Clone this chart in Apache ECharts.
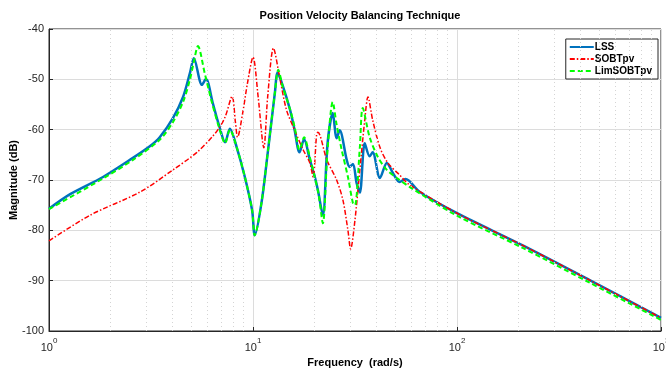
<!DOCTYPE html>
<html>
<head>
<meta charset="utf-8">
<script src="https://cdn.jsdelivr.net/npm/echarts@6/dist/echarts.min.js"></script>
<style>
  html, body { margin: 0; padding: 0; background: #fff; }
  #chart { width: 666px; height: 371px; }
</style>
</head>
<body>
<div id="chart"></div>
<script>
// values: frequency (rad/s) and magnitude (dB)
const lssFreq = [1, 1.27, 1.84, 2.58, 3.12, 3.49, 4.05, 4.54, 4.91, 5.13, 5.62, 5.88, 6.35, 6.81, 7.3, 7.7, 8.32, 9.12, 9.9, 10.2, 11.0, 11.8, 12.8, 13.2, 14.0, 15.2, 16.0, 16.9, 17.8, 19.0, 20.1, 20.8, 22.0, 23.2, 24.6, 25.7, 26.6, 28.8, 29.7, 30.9, 32.2, 33.4, 35.3, 37.3, 38.6, 41.9, 45.3, 48.5, 52.3, 55.9, 65.8, 100, 210, 447, 1000];
const lssDb = [-75.7, -72.8, -69.4, -65.6, -63.3, -61.5, -57.7, -53.5, -48.7, -45.8, -51.1, -49.9, -54.7, -59.1, -62.5, -59.8, -63.5, -69.4, -76, -81, -74.6, -64.7, -52.7, -48.7, -51.3, -56.1, -60.1, -64.5, -61.9, -66.0, -69.4, -72, -77, -62.7, -56.7, -61.7, -60.1, -66, -67.4, -66.8, -70.6, -72.5, -62.7, -65.3, -64.5, -69.6, -66.6, -68.6, -70.4, -69.8, -72.4, -76.6, -83, -89.9, -97.4];

const sobtFreq = [1, 1.59, 2.79, 4.05, 5.31, 6.35, 6.81, 7.3, 7.9, 8.2, 8.4, 8.9, 9.4, 10.0, 10.6, 11.3, 11.8, 12.6, 13.5, 14.6, 16.0, 17.6, 19.0, 19.7, 20.5, 20.8, 23.0, 25.7, 27.6, 29.2, 30.1, 31.6, 33.4, 35.3, 36.6, 38.6, 41.9, 45.8, 52.3, 58.7, 100, 210, 447, 1000];
const sobtDb = [-82.1, -77.0, -72.4, -68.0, -64.5, -61.3, -59.7, -57.5, -53.4, -58.5, -61.5, -56.7, -50.7, -45.6, -53.5, -63.6, -53.5, -43.8, -49.5, -56.1, -60.1, -64, -66.6, -69.4, -61, -60.5, -66.0, -70.0, -74.0, -80.0, -83.7, -78, -68, -58.1, -53.5, -58.1, -63.5, -66.6, -69.0, -71, -76.6, -83, -89.9, -97.4];

const limFreq = [1, 1.84, 2.58, 3.49, 4.05, 4.54, 4.91, 5.13, 5.37, 5.8, 6.3, 6.81, 7.3, 7.7, 8.32, 9.12, 9.9, 10.2, 11.0, 11.8, 12.8, 13.3, 14.0, 15.2, 16.0, 16.9, 17.8, 19.0, 20.1, 21.0, 22.0, 23.2, 24.6, 25.7, 27.2, 29.2, 30.9, 31.6, 33.4, 34.5, 37.3, 41.0, 45.3, 50.7, 58.7, 100, 210, 447, 1000];
const limDb = [-75.8, -69.7, -66.0, -62.0, -58.5, -54.5, -50, -46.5, -43.4, -48.8, -54.7, -59.5, -62.7, -60, -63.5, -69.4, -76, -81, -74.6, -64.7, -52.7, -48.1, -51.5, -56, -59.5, -64, -61.5, -65.5, -69.5, -73, -78.6, -64, -54.5, -59, -64, -69.4, -74.6, -75, -63.5, -55.7, -61.5, -65.5, -68, -69.6, -71.4, -77.1, -83.5, -90.4, -97.8];

const minorFreq = [2, 3, 4, 5, 6, 7, 8, 9, 20, 30, 40, 50, 60, 70, 80, 90, 200, 300, 400, 500, 600, 700, 800, 900];

const zip = (xs, ys) => xs.map((x, i) => [x, ys[i]]);

const chart = echarts.init(document.getElementById('chart'));
const font = 'Liberation Sans, Arial, Helvetica, sans-serif';
const supLabel = {
  b: { fontSize: 11, color: '#262626', fontFamily: font, verticalAlign: 'bottom', lineHeight: 16 },
  s: { fontSize: 8, color: '#262626', fontFamily: font, verticalAlign: 'top', lineHeight: 16 }
};

chart.setOption({
  animation: false,
  title: {
    text: 'Position Velocity Balancing Technique',
    left: 355, top: 5, textAlign: 'center',
    textStyle: { fontSize: 11, fontWeight: 'bold', color: '#000', fontFamily: font }
  },
  legend: {
    data: ['LSS', 'SOBTpv', 'LimSOBTpv'],
    orient: 'vertical',
    right: 8, top: 39,
    backgroundColor: '#fff',
    borderColor: '#262626', borderWidth: 1,
    padding: [3, 6, 3, 3],
    itemGap: 2, itemWidth: 24, itemHeight: 10,
    itemStyle: { opacity: 0 },
    textStyle: { fontSize: 10, fontWeight: 'bold', color: '#000', fontFamily: font, padding: [0, 0, 0, -4] }
  },
  grid: { left: 49, right: 5, top: 29, bottom: 40, outerBoundsMode: 'none', containLabel: false, show: true, borderColor: '#262626', borderWidth: 1 },
  xAxis: {
    type: 'log', logBase: 10, min: 1, max: 1000,
    name: 'Frequency  (rad/s)', nameLocation: 'middle', nameGap: 23,
    nameTextStyle: { fontSize: 11, fontWeight: 'bold', color: '#000', fontFamily: font },
    axisLine: { lineStyle: { color: '#262626' } },
    axisTick: { inside: true, length: 4, lineStyle: { color: '#262626' } },
    axisLabel: {
      margin: 6,
      formatter: v => '{b|10}{s|' + Math.round(Math.log10(v)) + '}',
      rich: supLabel
    },
    splitLine: { show: true, lineStyle: { color: '#dcdcdc', width: 1 } }
  },
  yAxis: {
    type: 'value', min: -100, max: -40, interval: 10,
    name: 'Magnitude (dB)', nameLocation: 'middle', nameGap: 30, nameMoveOverlap: false,
    nameTextStyle: { fontSize: 11, fontWeight: 'bold', color: '#000', fontFamily: font },
    axisLine: { show: true, lineStyle: { color: '#262626' } },
    axisTick: { inside: true, length: 4, lineStyle: { color: '#262626' } },
    axisLabel: { fontSize: 11, color: '#262626', fontFamily: font, margin: 5 },
    splitLine: { lineStyle: { color: '#dcdcdc', width: 1 } }
  },
  series: [
    {
      name: 'grid-minor', type: 'line', data: [], silent: true, z: 1,
      markLine: {
        silent: true, symbol: 'none', label: { show: false },
        lineStyle: { type: [1, 3], color: '#d4d4d4', width: 1 },
        data: minorFreq.map(f => ({ xAxis: f }))
      }
    },
    {
      name: 'LSS', type: 'line', data: zip(lssFreq, lssDb),
      symbol: 'none', smooth: 0.3, z: 3,
      lineStyle: { color: '#0072BD', width: 2.5 },
      itemStyle: { color: '#0072BD' }
    },
    {
      name: 'SOBTpv', type: 'line', data: zip(sobtFreq, sobtDb),
      symbol: 'none', smooth: 0.3, z: 4,
      lineStyle: { color: '#FF0000', width: 1.5, type: [5, 2, 1.5, 2] },
      itemStyle: { color: '#FF0000' }
    },
    {
      name: 'LimSOBTpv', type: 'line', data: zip(limFreq, limDb),
      symbol: 'none', smooth: 0.3, z: 5,
      lineStyle: { color: '#00FF00', width: 2, type: [5, 3] },
      itemStyle: { color: '#00FF00' }
    }
  ]
});
</script>
</body>
</html>
